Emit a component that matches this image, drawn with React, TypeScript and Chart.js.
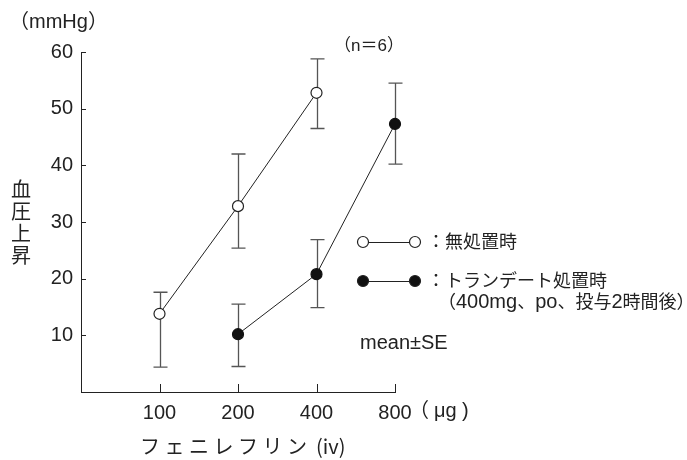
import React, { useEffect, useRef } from "react";
import { Chart, registerables } from "chart.js";

Chart.register(...registerables);

// ---- data ----
const doseLabels = ["100", "200", "400", "800"];
const controlMean = [13.8, 32.8, 52.8, null];
const controlUpper = [17.6, 42.0, 58.8, null];
const controlLower = [4.4, 25.4, 46.5, null];
const trandateMean = [null, 10.2, 20.8, 47.3];
const trandateUpper = [null, 15.5, 26.9, 54.5];
const trandateLower = [null, 4.5, 14.9, 40.2];
const yTicks = [10, 20, 30, 40, 50, 60];

const LATIN = "'Liberation Sans', Arial, sans-serif";
const CJK = "'Noto Sans CJK JP', sans-serif";
const INK = "#222";

function toPoints(arr: (number | null)[]) {
  const pts: { x: number; y: number }[] = [];
  arr.forEach((v, i) => {
    if (v !== null) pts.push({ x: i + 1, y: v });
  });
  return pts;
}

const isCJK = (c: string) => /[\u3000-\u30ff\u4e00-\u9fff\uff00-\uffef]/.test(c);

function drawMixed(
  ctx: CanvasRenderingContext2D,
  text: string,
  x: number,
  y: number,
  latinPx: number,
  cjkPx: number
) {
  ctx.textAlign = "left";
  ctx.textBaseline = "alphabetic";
  let cx = x;
  let run = "";
  let runCJK: boolean | null = null;
  const flush = () => {
    if (!run) return;
    ctx.font = runCJK ? `${cjkPx}px ${CJK}` : `${latinPx}px ${LATIN}`;
    ctx.fillText(run, cx, y);
    cx += ctx.measureText(run).width;
    run = "";
  };
  for (const ch of text) {
    const c = isCJK(ch);
    if (runCJK !== null && c !== runCJK) flush();
    runCJK = c;
    run += ch;
  }
  flush();
}

const extras = {
  id: "extras",
  beforeDatasetsDraw(chart: any) {
    const ctx = chart.ctx as CanvasRenderingContext2D;
    const xs = chart.scales.x;
    const ys = chart.scales.y;
    ctx.save();
    ctx.strokeStyle = "#555";
    ctx.lineWidth = 1.3;
    const cap = 7;
    const bars = [
      [controlMean, controlUpper, controlLower],
      [trandateMean, trandateUpper, trandateLower],
    ];
    bars.forEach(([m, up, lo]) => {
      m.forEach((v, i) => {
        if (v === null) return;
        const px = Math.round(xs.getPixelForValue(i + 1)) + 0.5;
        const pu = ys.getPixelForValue(up[i] as number);
        const pl = ys.getPixelForValue(lo[i] as number);
        ctx.beginPath();
        ctx.moveTo(px, pu);
        ctx.lineTo(px, pl);
        ctx.moveTo(px - cap, pu);
        ctx.lineTo(px + cap, pu);
        ctx.moveTo(px - cap, pl);
        ctx.lineTo(px + cap, pl);
        ctx.stroke();
      });
    });
    ctx.restore();
  },
  afterDraw(chart: any) {
    const ctx = chart.ctx as CanvasRenderingContext2D;
    const xs = chart.scales.x;
    const ys = chart.scales.y;
    const area = chart.chartArea;
    ctx.save();
    // inward ticks
    ctx.strokeStyle = INK;
    ctx.lineWidth = 1;
    ctx.beginPath();
    yTicks.forEach((v) => {
      const py = Math.round(ys.getPixelForValue(v)) + 0.5;
      ctx.moveTo(area.left, py);
      ctx.lineTo(area.left + 5, py);
    });
    doseLabels.forEach((_, i) => {
      const px = Math.round(xs.getPixelForValue(i + 1)) + 0.5;
      ctx.moveTo(px, area.bottom);
      ctx.lineTo(px, area.bottom - 8);
    });
    ctx.stroke();

    ctx.fillStyle = INK;
    // unit label top-left
    drawMixed(ctx, "（mmHg）", 9, 28, 20, 20);
    // n=6
    drawMixed(ctx, "（n＝6）", 334, 51, 17, 17);
    // y-axis title stacked
    ctx.font = `20px ${CJK}`;
    ctx.textAlign = "center";
    ctx.textBaseline = "middle";
    const yTitle = ["血", "圧", "上", "昇"];
    const yCenters = [189, 211, 233, 255];
    yTitle.forEach((c, i) => ctx.fillText(c, 21, yCenters[i]));
    // x unit
    drawMixed(ctx, "（", 409, 417, 20, 20);
    drawMixed(ctx, "μg", 434, 417, 20, 20);
    drawMixed(ctx, ")", 462, 417, 20, 20);
    // x-axis title
    ctx.font = `20px ${CJK}`;
    ctx.textAlign = "left";
    ctx.textBaseline = "alphabetic";
    (ctx as any).letterSpacing = "4.5px";
    ctx.fillText("フェニレフリン", 140, 454);
    (ctx as any).letterSpacing = "0px";
    ctx.fillText("(iv)", 316, 454);

    // legend
    const legendRows = [
      { y: 242, fill: "#fff" },
      { y: 281, fill: "#111" },
    ];
    legendRows.forEach((r) => {
      ctx.strokeStyle = INK;
      ctx.lineWidth = 1;
      ctx.beginPath();
      ctx.moveTo(363, r.y + 0.5);
      ctx.lineTo(415, r.y + 0.5);
      ctx.stroke();
      [363, 415].forEach((cx) => {
        ctx.beginPath();
        ctx.arc(cx, r.y, 5.5, 0, Math.PI * 2);
        ctx.fillStyle = r.fill;
        ctx.fill();
        ctx.lineWidth = 1.2;
        ctx.stroke();
      });
    });
    ctx.fillStyle = INK;
    drawMixed(ctx, "：無処置時", 427, 248, 20, 18);
    drawMixed(ctx, "：トランデート処置時", 427, 287, 20, 18);
    drawMixed(ctx, "（400mg、po、投与2時間後）", 438, 308, 20, 18);
    drawMixed(ctx, "mean±SE", 360, 349, 20, 18);
    ctx.restore();
  },
};

export default function App() {
  const ref = useRef<HTMLCanvasElement | null>(null);
  useEffect(() => {
    if (!ref.current) return;
    const chart = new Chart(ref.current, {
      type: "line",
      data: {
        datasets: [
          {
            label: "無処置時",
            data: toPoints(controlMean),
            borderColor: INK,
            borderWidth: 1,
            backgroundColor: "#fff",
            pointBackgroundColor: "#fff",
            pointBorderColor: INK,
            pointBorderWidth: 1.2,
            pointRadius: 5.5,
            tension: 0,
            clip: false,
          },
          {
            label: "トランデート処置時",
            data: toPoints(trandateMean),
            borderColor: INK,
            borderWidth: 1,
            backgroundColor: "#111",
            pointBackgroundColor: "#111",
            pointBorderColor: "#111",
            pointBorderWidth: 1.2,
            pointRadius: 5.5,
            tension: 0,
            clip: false,
          },
        ],
      },
      options: {
        animation: false,
        responsive: false,
        events: [],
        layout: { padding: { left: 0, right: 292, top: 52, bottom: 0 } },
        plugins: {
          legend: { display: false },
          tooltip: { enabled: false },
          title: { display: false },
        },
        scales: {
          x: {
            type: "linear",
            min: 0,
            max: 4,
            afterFit: (s: any) => {
              s.height = 68;
            },
            grid: { display: false, drawTicks: false },
            border: { display: true, color: INK, width: 1 },
            ticks: {
              stepSize: 1,
              autoSkip: false,
              maxRotation: 0,
              padding: 9,
              color: INK,
              font: { size: 20, family: LATIN },
              callback: (v: any) => (v >= 1 && v <= 4 ? doseLabels[v - 1] : ""),
            },
          },
          y: {
            min: 0,
            max: 60,
            afterFit: (s: any) => {
              s.width = 81;
            },
            grid: { display: false, drawTicks: false },
            border: { display: true, color: INK, width: 1 },
            ticks: {
              stepSize: 10,
              padding: 8,
              color: INK,
              font: { size: 20, family: LATIN },
              callback: (v: any) => (v === 0 ? "" : String(v)),
            },
          },
        },
      },
      plugins: [extras],
    });
    return () => chart.destroy();
  }, []);
  return (
    <div style={{ position: "absolute", left: 0, top: 0, width: 687, height: 460, background: "#fff" }}>
      <canvas ref={ref} width={687} height={460} style={{ display: "block" }} />
    </div>
  );
}
